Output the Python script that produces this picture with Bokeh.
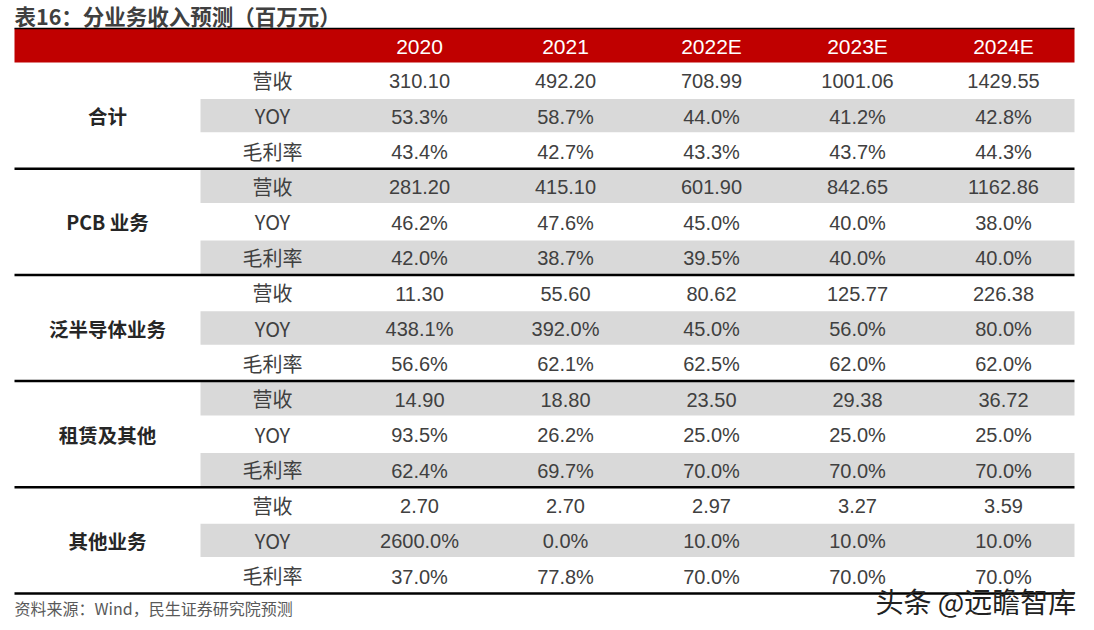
from bokeh.plotting import figure
from bokeh.models import Range1d
from bokeh.core.properties import value
from bokeh.embed import file_html
from bokeh.resources import INLINE

title_text = "表16：分业务收入预测（百万元）"
source_note = "资料来源：Wind，民生证券研究院预测"
watermark = "头条 @远瞻智库"

years = ["2020", "2021", "2022E", "2023E", "2024E"]
groups = ["合计", "PCB 业务", "泛半导体业务", "租赁及其他", "其他业务"]
metrics = ["营收", "YOY", "毛利率"]

total_rev = [310.10, 492.20, 708.99, 1001.06, 1429.55]
total_yoy = [53.3, 58.7, 44.0, 41.2, 42.8]
total_gm = [43.4, 42.7, 43.3, 43.7, 44.3]
pcb_rev = [281.20, 415.10, 601.90, 842.65, 1162.86]
pcb_yoy = [46.2, 47.6, 45.0, 40.0, 38.0]
pcb_gm = [42.0, 38.7, 39.5, 40.0, 40.0]
semi_rev = [11.30, 55.60, 80.62, 125.77, 226.38]
semi_yoy = [438.1, 392.0, 45.0, 56.0, 80.0]
semi_gm = [56.6, 62.1, 62.5, 62.0, 62.0]
lease_rev = [14.90, 18.80, 23.50, 29.38, 36.72]
lease_yoy = [93.5, 26.2, 25.0, 25.0, 25.0]
lease_gm = [62.4, 69.7, 70.0, 70.0, 70.0]
other_rev = [2.70, 2.70, 2.97, 3.27, 3.59]
other_yoy = [2600.0, 0.0, 10.0, 10.0, 10.0]
other_gm = [37.0, 77.8, 70.0, 70.0, 70.0]

group_data = [
    (total_rev, total_yoy, total_gm),
    (pcb_rev, pcb_yoy, pcb_gm),
    (semi_rev, semi_yoy, semi_gm),
    (lease_rev, lease_yoy, lease_gm),
    (other_rev, other_yoy, other_gm),
]

W, H = 1094, 630
p = figure(width=W, height=H, output_backend="svg", toolbar_location=None,
           x_range=Range1d(0, W), y_range=Range1d(H, 0),
           min_border=0, background_fill_color="white", border_fill_color="white")
p.axis.visible = False
p.grid.visible = False
p.outline_line_color = None

CN = "Noto Sans CJK SC"
NUM = "Liberation Sans"
TXT = "#404040"

left, right = 14, 1074
head_top, head_bot = 28, 62
row_h = 35.4
col_x = [419 + 146 * j for j in range(len(years))]
metric_x = 272
group_x = 107
band_left = 200

# header
p.quad(left=[left], right=[right], top=[head_top], bottom=[head_bot],
       fill_color="#c00000", line_color=None)
p.segment(x0=[left], x1=[right], y0=[head_top], y1=[head_top], line_color="black", line_width=1.5)
p.text(x=col_x, y=[(head_top + head_bot) / 2 + 1] * len(years), text=years,
       text_font=value(NUM), text_font_size="21px", text_color="white",
       text_align="center", text_baseline="middle")

# rows
n_rows = len(groups) * len(metrics)
gray_l, gray_r, gray_t, gray_b = [], [], [], []
for i in range(n_rows):
    if i % 2 == 1:
        t = head_bot + i * row_h
        gray_l.append(band_left); gray_r.append(right)
        gray_t.append(t + 1); gray_b.append(t + row_h - 1)
p.quad(left=gray_l, right=gray_r, top=gray_t, bottom=gray_b,
       fill_color="#d9d9d9", line_color=None)

mx, my, mt = [], [], []
vx, vy, vt = [], [], []
gx, gy, gt = [], [], []
for g, name in enumerate(groups):
    rev, yoy, gm = group_data[g]
    base = head_bot + g * len(metrics) * row_h
    gx.append(group_x); gy.append(base + 1.5 * row_h); gt.append(name)
    for m, mname in enumerate(metrics):
        cy = base + (m + 0.5) * row_h
        mx.append(metric_x); my.append(cy); mt.append(mname)
        series = [rev, yoy, gm][m]
        for j, v in enumerate(series):
            vx.append(col_x[j]); vy.append(cy + 1)
            vt.append(f"{v:.2f}" if m == 0 else f"{v:.1f}%")

p.text(x=gx, y=gy, text=gt, text_font=value(CN), text_font_size="19.5px",
       text_font_style="bold", text_color="#262626", text_align="center", text_baseline="middle")
p.text(x=mx, y=my, text=mt, text_font=value(CN), text_font_size="20px",
       text_color=TXT, text_align="center", text_baseline="middle")
p.text(x=vx, y=vy, text=vt, text_font=value(NUM), text_font_size="20px",
       text_color=TXT, text_align="center", text_baseline="middle")

# group separators
sep_y = [head_bot + (g + 1) * len(metrics) * row_h for g in range(len(groups))]
p.segment(x0=[left] * len(sep_y), x1=[right] * len(sep_y), y0=sep_y, y1=sep_y,
          line_color="black", line_width=2.5)

# title, source, watermark
p.text(x=[14], y=[15], text=[title_text], text_font=value(CN), text_font_size="21.5px",
       text_font_style="bold", text_color="#404040", text_align="left", text_baseline="middle")
p.text(x=[14], y=[607], text=[source_note], text_font=value(CN), text_font_size="16px",
       text_color="#595959", text_align="left", text_baseline="middle")
p.text(x=[875], y=[600], text=[watermark], text_font=value(CN), text_font_size="28px",
       text_color="#222222", text_align="left", text_baseline="middle")

open("out.html", "w").write(file_html(p, INLINE))
